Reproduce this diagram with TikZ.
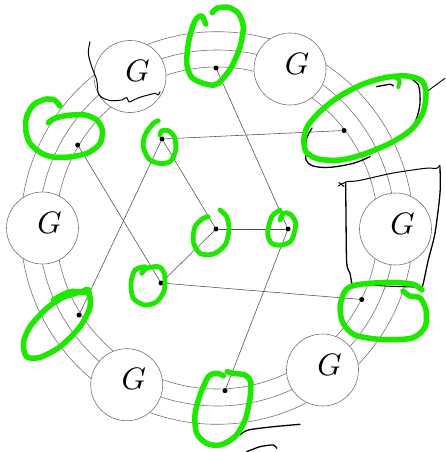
\documentclass[tikz,border=0pt]{standalone}
\definecolor{hl}{RGB}{30,232,0}
\begin{document}
\begin{tikzpicture}[x=1pt,y=-1pt,
  ring/.style={draw=black!55,line width=0.6pt},
  gnode/.style={circle,draw=black!55,fill=white,line width=0.6pt,minimum size=72pt,inner sep=0pt},
  glabel/.style={inner sep=0pt,scale=3.1},
  dot/.style={circle,fill=black,inner sep=0pt,minimum size=5pt},
  link/.style={draw=black!70,line width=0.55pt},
  ink/.style={draw=black,line width=1.3pt,line cap=round,line join=round},
  marker/.style={draw=hl,line width=5.5pt,line cap=round,line join=round},
  smallmarker/.style={draw=hl,line width=4.8pt,line cap=round,line join=round}]
\useasboundingbox (0,0) rectangle (445,452);
% rings
\coordinate (ctr) at (217,228);
\draw[ring] (ctr) circle[radius=161pt];
\draw[ring] (ctr) circle[radius=178pt];
\draw[ring] (ctr) circle[radius=196.3pt];
% G nodes
\node[gnode] (g1) at (130,76.5) {};
\node[gnode] (g2) at (290,69) {};
\node[gnode] (g3) at (42.5,228) {};
\node[gnode] (g4) at (395.5,229) {};
\node[gnode] (g5) at (126.7,384.7) {};
\node[gnode] (g6) at (322.5,370) {};
\node[glabel] (l1) at (137.5,71) {$G$};
\node[glabel] (l2) at (297,63.5) {$G$};
\node[glabel] (l3) at (49.5,222.5) {$G$};
\node[glabel] (l4) at (402.5,223.5) {$G$};
\node[glabel] (l5) at (133.7,379.2) {$G$};
\node[glabel] (l6) at (329.5,364.5) {$G$};
% dots
\node[dot] (r1) at (216,68) {};
\node[dot] (r2) at (344,130.5) {};
\node[dot] (r3) at (77.7,145) {};
\node[dot] (r4) at (361.7,299.5) {};
\node[dot] (r5) at (79,315) {};
\node[dot] (r6) at (225,390.7) {};
\node[dot] (a) at (162,139) {};
\node[dot] (b) at (216,229) {};
\node[dot] (c) at (288,229) {};
\node[dot] (d) at (161,283) {};
% edges
\draw[link] (a) -- (r2);
\draw[link] (a) -- (r5);
\draw[link] (a) -- (b);
\draw[link] (r3) -- (d);
\draw[link] (d) -- (b);
\draw[link] (d) -- (r4);
\draw[link] (b) -- (c);
\draw[link] (c) -- (r6);
\draw[link] (c) -- (r1);
% black ink scribbles
\draw[ink,line width=1pt] plot[smooth,tension=0.5] coordinates {(90,41.7) (88.3,53.3) (91.7,66.7) (96.7,80) (98.3,93.3) (103.3,98.3) (111.7,100.7) (121.7,100) (126.7,97.5) (129,102) (135,99.3) (141.7,96.7) (148.3,95) (155,93.3) (158.3,95) (160,91.7)};
\draw[ink] plot[smooth,tension=0.6] coordinates {(312,128) (306,140) (306.7,150) (306,160) (313.3,166) (330,167.3) (353.3,163.3) (370,156.7)};
\draw[ink] plot[smooth] coordinates {(376.7,86.7) (390,84.3) (393.3,86)};
\draw[ink] plot[smooth] coordinates {(406.7,76) (418.3,85) (420,103.3) (416,120) (406.7,135)};
\draw[ink,line width=0.9pt] (426.7,91.7) -- (445,78.3);
\draw[ink,line width=1pt] plot[smooth,tension=0.4] coordinates {(338.3,186) (346.7,181.7) (358.3,180.7) (391.7,173.3) (425,168.3) (436.7,168.3) (440,165)};
\draw[ink,line width=1pt] (339,182.5) -- (344,186.5);
\draw[ink] plot[smooth,tension=0.4] coordinates {(345.7,183.3) (346,216.7) (346.7,263.3) (350,273.3) (351.7,283.3)};
\draw[ink,line width=1pt] plot[smooth,tension=0.4] coordinates {(351.7,283.3) (385,286) (421.7,287.3)};
\draw[ink] plot[smooth,tension=0.4] coordinates {(440,166.7) (440,193.3) (435,233.3) (428.3,260) (423.3,283.3) (421.7,288.3)};
\draw[ink] plot[smooth,tension=0.5] coordinates {(240,435) (248.3,430) (273.3,426.7) (300,424.3)};
\draw[ink] plot[smooth,tension=0.5] coordinates {(246.7,451.7) (260,446.7) (273.3,445) (276.7,448.3)};
% green markers
\draw[marker] plot[smooth] coordinates {(205.7,24) (201.7,16) (195,20.7) (189,40) (186.7,63.3) (191.7,77.3) (203.3,83.3) (214.3,85) (221.7,80) (231.7,66.7) (240,46.7) (243.3,26.7) (238.3,13.3) (228.3,7.3) (216.7,8.3) (212.3,12.7)};
\draw[marker] plot[smooth] coordinates {(60,106) (54.3,100) (45,99.3) (33.3,105) (26.7,116.7) (25.7,130) (30,143.3) (41.7,153.3) (55,157.3) (71.7,156.7) (88.3,152.7) (100,143.3) (102.3,130) (96.7,120) (85,115) (68.3,115.3) (55,118.3) (48.3,122.7)};
\draw[marker] plot[smooth cycle] coordinates {(304,138.3) (308.3,125) (321.7,110) (340,96) (363.3,84) (386.7,77.3) (406.7,76) (421.7,80.7) (426,93.3) (422.7,113.3) (410.7,130) (390,143.3) (363.3,154.3) (340,160) (318.3,159) (306,151.7)};
\draw[marker,line width=4pt] plot[smooth] coordinates {(398.3,87) (399.5,80.5) (394,77)};
\draw[marker] plot[smooth] coordinates {(403,291) (410,296) (420,298) (426,310) (425,327) (412,338) (382,339.5) (355,335) (343,323) (340,307) (345,291) (356,285) (385,282.5) (412,284) (422,290)};
\draw[marker] plot[smooth cycle] coordinates {(88.3,290) (90,306.7) (80,326.7) (60,346.7) (40,357.3) (26.7,356.7) (23.3,343.3) (30,326.7) (46.7,308.3) (63.3,297.3) (81.7,291.7)};
\draw[marker] plot[smooth] coordinates {(53.3,300) (70,291.7) (87.3,293)};
\draw[marker] plot[smooth] coordinates {(223.3,375.7) (216.7,373.3) (208.3,376.7) (200,395) (195,415) (196.7,433.3) (206.7,443.3) (220,445) (235,436.7) (245,420) (250,398.3) (250.7,381.7) (245,375) (233.3,373.3) (227.3,371.7)};
\draw[smallmarker] plot[smooth] coordinates {(158.3,120.7) (153.3,123.3) (145,135) (143.3,146.7) (148.3,158.3) (158.3,163.3) (170,161.7) (175.7,150) (174.3,136.7) (168.3,130.7) (161.7,130.7) (160,135)};
\draw[smallmarker] plot[smooth] coordinates {(220,210) (226.7,216.7) (229,230) (225,245) (213.3,254) (200,253.3) (193.3,241.7) (195,226.7) (203.3,218.3) (208.3,216.7)};
\draw[smallmarker] plot[smooth] coordinates {(280,210) (271.7,216.7) (267.7,233.3) (271.7,243.3) (281.7,245) (291.7,240) (295.7,223.3) (290,214) (283.3,213.3) (280,220)};
\draw[smallmarker] plot[smooth] coordinates {(145,266.7) (135,270) (131,283.3) (133.3,298.3) (145,305) (156.7,301.7) (164.3,290) (164.3,273.3) (158.3,266.7) (146.7,268.3) (141.7,273.3)};
\end{tikzpicture}
\end{document}
